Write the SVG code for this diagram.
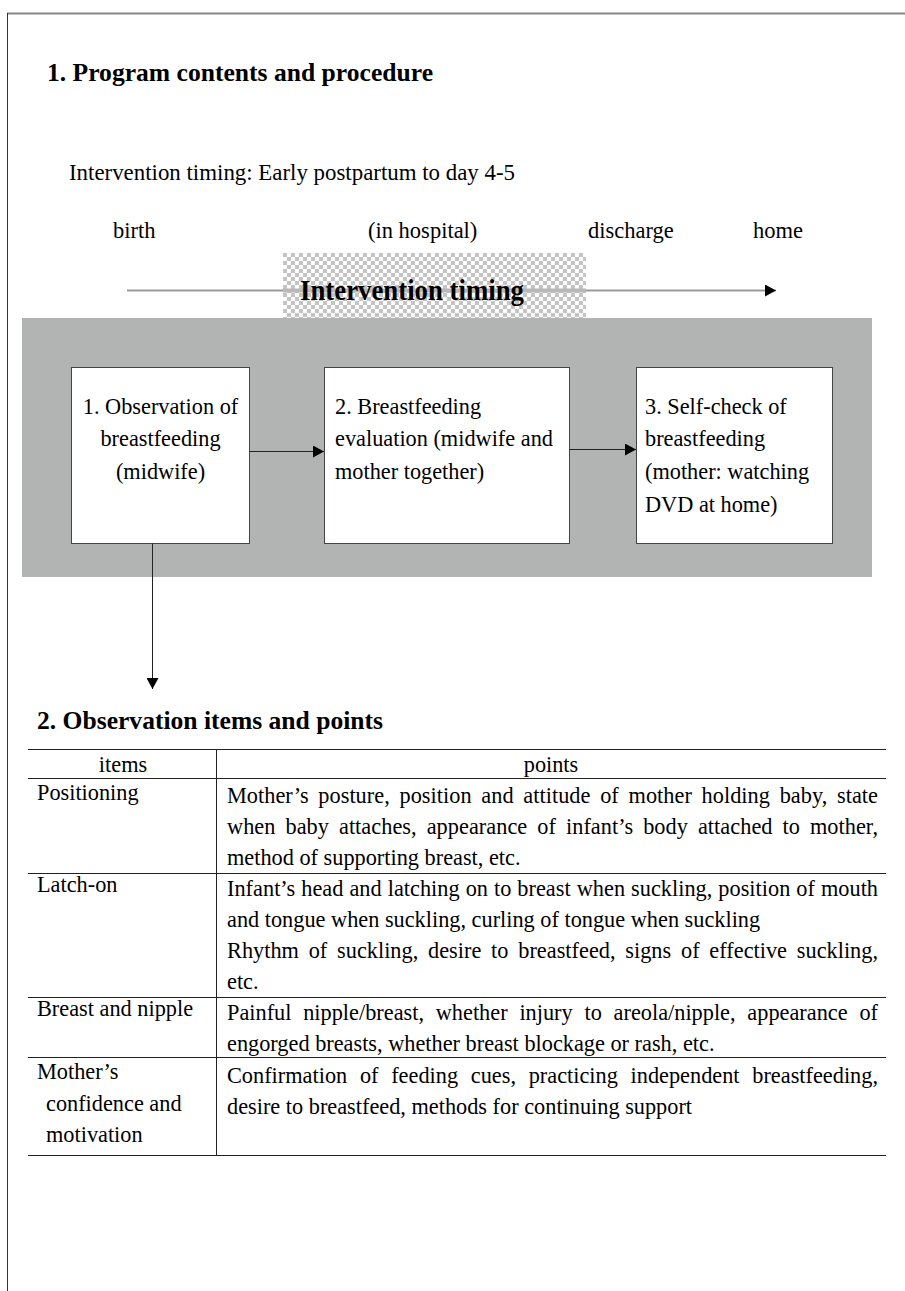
<svg xmlns="http://www.w3.org/2000/svg" width="905" height="1291" viewBox="0 0 905 1291">
<style>
text{font-family:"Liberation Serif","Times New Roman",serif;fill:#000}
.h{font-weight:bold;font-size:26px}
.t{font-size:22.5px}
.b{font-size:22.3px}
.tb{font-size:22.3px}
.box{fill:#fff;stroke:#444;stroke-width:1}
.conn{stroke:#222;stroke-width:1;fill:none}
.tl{stroke:#222;stroke-width:1}
</style>
<defs>
<pattern id="chk" x="283" y="253" width="8" height="8" patternUnits="userSpaceOnUse">
<rect width="8" height="8" fill="#fff"/>
<rect width="4" height="4" fill="#c4c4c4"/>
<rect x="4" y="4" width="4" height="4" fill="#c4c4c4"/>
</pattern>
<marker id="ah" markerWidth="12" markerHeight="12" refX="11" refY="6" orient="auto" markerUnits="userSpaceOnUse">
<path d="M0,0 L11,6 L0,12 Z" fill="#000"/>
</marker>
</defs>
<rect width="905" height="1291" fill="#fff"/>
<g id="frame">
<line x1="7" y1="13.5" x2="905" y2="13.5" stroke="#888" stroke-width="2"/>
<line x1="7.5" y1="13" x2="7.5" y2="1291" stroke="#333" stroke-width="1"/>
</g>
<text id="title1" class="h" x="47" y="81" textLength="386" lengthAdjust="spacingAndGlyphs">1. Program contents and procedure</text>
<text id="timing" class="t" x="69" y="180" textLength="446" lengthAdjust="spacingAndGlyphs">Intervention timing: Early postpartum to day 4-5</text>
<g id="timeline">
<text class="t" x="113" y="238">birth</text>
<text class="t" x="368" y="238">(in hospital)</text>
<text class="t" x="588" y="238">discharge</text>
<text class="t" x="753" y="238">home</text>
<rect x="283" y="253" width="303" height="65" fill="url(#chk)"/>
<rect x="283" y="288.5" width="303" height="4" fill="#b8b8b8"/>
<line x1="127" y1="290.5" x2="283" y2="290.5" stroke="#9a9a9a" stroke-width="2"/>
<line x1="586" y1="290.5" x2="776" y2="290.5" stroke="#9a9a9a" stroke-width="2" marker-end="url(#ah)"/>
<text class="h" x="300" y="300" style="font-size:30px" textLength="224" lengthAdjust="spacingAndGlyphs">Intervention timing</text>
</g>
<rect id="panel" x="22" y="318" width="850" height="259" fill="#b2b4b4"/>
<g id="node1">
<rect class="box" x="71.5" y="367.5" width="178" height="176"/>
<text class="b" x="160.5" y="414" text-anchor="middle">1. Observation of</text>
<text class="b" x="160.5" y="446" text-anchor="middle">breastfeeding</text>
<text class="b" x="160.5" y="479" text-anchor="middle">(midwife)</text>
</g>
<g id="node2">
<rect class="box" x="324.5" y="367.5" width="245" height="176"/>
<text class="b" x="335" y="414">2. Breastfeeding</text>
<text class="b" x="335" y="446">evaluation (midwife and</text>
<text class="b" x="335" y="479">mother together)</text>
</g>
<g id="node3">
<rect class="box" x="636.5" y="367.5" width="196" height="176"/>
<text class="b" x="645" y="414">3. Self-check of</text>
<text class="b" x="645" y="446">breastfeeding</text>
<text class="b" x="645" y="479">(mother: watching</text>
<text class="b" x="645" y="512">DVD at home)</text>
</g>
<g id="connectors">
<line class="conn" x1="249.5" y1="451.5" x2="324" y2="451.5" marker-end="url(#ah)"/>
<line class="conn" x1="569.5" y1="449.5" x2="636" y2="449.5" marker-end="url(#ah)"/>
<line class="conn" x1="152.5" y1="543.5" x2="152.5" y2="689" marker-end="url(#ah)"/>
</g>
<text id="title2" class="h" x="37" y="729" textLength="346" lengthAdjust="spacingAndGlyphs">2. Observation items and points</text>
<g id="table">
<line class="tl" x1="28" y1="749.5" x2="886" y2="749.5"/>
<line class="tl" x1="28" y1="778.5" x2="886" y2="778.5"/>
<line class="tl" x1="28" y1="873.5" x2="886" y2="873.5"/>
<line class="tl" x1="28" y1="997.5" x2="886" y2="997.5"/>
<line class="tl" x1="28" y1="1057.5" x2="886" y2="1057.5"/>
<line class="tl" x1="28" y1="1155.5" x2="886" y2="1155.5"/>
<line class="tl" x1="216.5" y1="749" x2="216.5" y2="1155"/>
<text class="tb" x="123" y="772" text-anchor="middle">items</text>
<text class="tb" x="551" y="772" text-anchor="middle">points</text>
<text class="tb" x="37" y="800">Positioning</text>
<text class="tb" x="227" y="803" word-spacing="4.1" textLength="651" lengthAdjust="spacing">Mother’s posture, position and attitude of mother holding baby, state</text>
<text class="tb" x="227" y="834" word-spacing="4.4" textLength="651" lengthAdjust="spacing">when baby attaches, appearance of infant’s body attached to mother,</text>
<text class="tb" x="227" y="865">method of supporting breast, etc.</text>
<text class="tb" x="37" y="892">Latch-on</text>
<text class="tb" x="227" y="896" word-spacing="0.4" textLength="651" lengthAdjust="spacing">Infant’s head and latching on to breast when suckling, position of mouth</text>
<text class="tb" x="227" y="927">and tongue when suckling, curling of tongue when suckling</text>
<text class="tb" x="227" y="958" word-spacing="4.2" textLength="651" lengthAdjust="spacing">Rhythm of suckling, desire to breastfeed, signs of effective suckling,</text>
<text class="tb" x="227" y="989">etc.</text>
<text class="tb" x="37" y="1016">Breast and nipple</text>
<text class="tb" x="227" y="1020" word-spacing="6.2" textLength="651" lengthAdjust="spacing">Painful nipple/breast, whether injury to areola/nipple, appearance of</text>
<text class="tb" x="227" y="1051">engorged breasts, whether breast blockage or rash, etc.</text>
<text class="tb" x="37" y="1079">Mother’s</text>
<text class="tb" x="46" y="1111">confidence and</text>
<text class="tb" x="46" y="1142">motivation</text>
<text class="tb" x="227" y="1083" word-spacing="7.1" textLength="651" lengthAdjust="spacing">Confirmation of feeding cues, practicing independent breastfeeding,</text>
<text class="tb" x="227" y="1114">desire to breastfeed, methods for continuing support</text>
</g>
</svg>
